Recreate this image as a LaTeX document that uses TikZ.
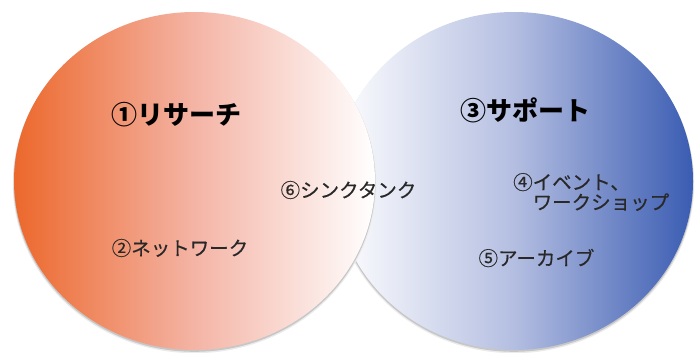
\documentclass[tikz,border=0pt]{standalone}
\usepackage{fontspec}
\newfontfamily\jp{Noto Sans CJK JP}
\newfontfamily\jpm[FakeBold=0.35]{Noto Sans CJK JP}
\definecolor{lo}{RGB}{236,104,44}
\definecolor{lm}{RGB}{244,180,165}
\definecolor{bb}{RGB}{58,92,178}
\definecolor{bm}{RGB}{180,190,225}
\definecolor{txt}{RGB}{40,40,40}
\pgfdeclarehorizontalshading{leftsh}{100bp}{color(0bp)=(lo); color(25bp)=(lo); color(50bp)=(lm); color(75bp)=(white); color(100bp)=(white)}
\pgfdeclarehorizontalshading{rightsh}{100bp}{color(0bp)=(white); color(25bp)=(white); color(50bp)=(bm); color(75bp)=(bb); color(100bp)=(bb)}
\tikzset{
  title/.style={inner sep=0pt, font=\jp\bfseries\fontsize{26}{30}\selectfont, text=black},
  body/.style={inner sep=0pt, font=\jpm\fontsize{19.5}{20}\selectfont, text=txt},
  shadowA/.style={fill=black!8},
  shadowB/.style={fill=black!22},
}
\begin{document}
\begin{tikzpicture}[x=1pt,y=-1pt]
\useasboundingbox (0,0) rectangle (696,353);
\fill[white] (0,0) rectangle (696,353);
\coordinate (R) at (514,181);
\coordinate (L) at (194.5,181);
% right circle
\fill[shadowA] ([yshift=-2.4pt]R) ellipse [x radius=180.2pt, y radius=169.8pt];
\fill[shadowB] ([yshift=-1.4pt]R) ellipse [x radius=179.5pt, y radius=169.4pt];
\shade[shading=rightsh] (R) ellipse [x radius=179pt, y radius=169pt];
% left circle
\fill[shadowA] ([yshift=-2.4pt]L) ellipse [x radius=181.7pt, y radius=169.8pt];
\fill[shadowB] ([yshift=-1.4pt]L) ellipse [x radius=181pt, y radius=169.4pt];
\shade[shading=leftsh] (L) ellipse [x radius=180.5pt, y radius=169pt];
% texts
\node[title] (t1) at (176.5,115) {①リサーチ};
\node[title] (t3) at (525.5,110) {③サポート};
\node[body] (t6) at (348.5,190) {⑥シンクタンク};
\node[body] (t2) at (180,248) {②ネットワーク};
\node[body, anchor=west, align=left] (t4) at (513,192) {④イベント、\\　ワークショップ};
\node[body] (t5) at (536.5,258) {⑤アーカイブ};
\end{tikzpicture}
\end{document}
